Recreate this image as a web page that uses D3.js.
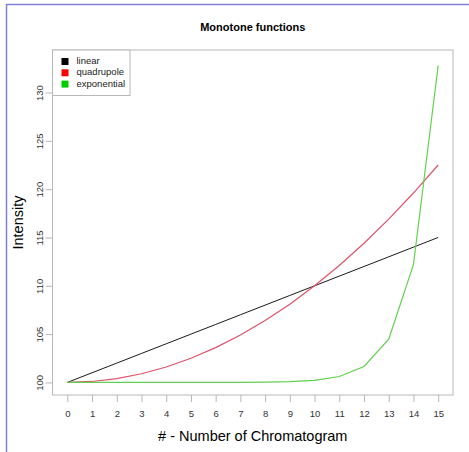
<!DOCTYPE html>
<html>
<head>
<meta charset="utf-8">
<script src="https://cdn.jsdelivr.net/npm/d3@7"></script>
<style>
  html, body { margin: 0; padding: 0; background: #fff; }
  svg { display: block; font-family: "Liberation Sans", Arial, sans-serif; }
</style>
</head>
<body>
<svg id="chart" width="469" height="452"></svg>
<script>
// Chromatogram index on the x axis
const chromatograms = [0, 1, 2, 3, 4, 5, 6, 7, 8, 9, 10, 11, 12, 13, 14, 15];

// Intensity series
const linear = [100, 101, 102, 103, 104, 105, 106, 107, 108, 109, 110, 111, 112, 113, 114, 115];
const quadrupole = [100, 100.1, 100.4, 100.9, 101.6, 102.5, 103.6, 104.9, 106.4, 108.1, 110, 112.1, 114.4, 116.9, 119.6, 122.5];
const exponential = [100, 100, 100, 100, 100, 100.01, 100.01, 100.01, 100.03, 100.08, 100.22, 100.61, 101.65, 104.48, 112.18, 132.8];

const xTicks = [0, 1, 2, 3, 4, 5, 6, 7, 8, 9, 10, 11, 12, 13, 14, 15];
const yTicks = [100, 105, 110, 115, 120, 125, 130];

const seriesNames = ["linear", "quadrupole", "exponential"];
const lineColors = ["#000000", "#DF536B", "#61D04F"];
const legendColors = ["#000000", "#FF0000", "#00CD00"];

const svg = d3.select("#chart");

// page border
svg.append("path")
  .attr("d", "M6.5,452 L6.5,4.5 L469,4.5")
  .attr("fill", "none")
  .attr("stroke", "#8080e0")
  .attr("stroke-width", 1.5);

const frame = { left: 52.5, right: 453, top: 50, bottom: 395 };

const x = d3.scaleLinear().domain([-0.6, 15.6]).range([frame.left, frame.right]);
const y = d3.scaleLinear().domain([98.7, 134.4]).range([frame.bottom, frame.top]);

// plot frame
svg.append("rect")
  .attr("x", frame.left).attr("y", frame.top)
  .attr("width", frame.right - frame.left)
  .attr("height", frame.bottom - frame.top)
  .attr("fill", "none")
  .attr("stroke", "#b8b8b8")
  .attr("stroke-width", 1);

// x axis
const xAxis = svg.append("g")
  .attr("transform", `translate(0,${frame.bottom})`)
  .call(d3.axisBottom(x).tickValues(xTicks).tickSize(7).tickPadding(8).tickFormat(d3.format("d")));
xAxis.select(".domain").remove();
xAxis.selectAll(".tick line").attr("stroke", "#b8b8b8");
xAxis.selectAll(".tick text")
  .attr("fill", "#333")
  .attr("font-size", 9.5)
  .attr("font-family", "Liberation Sans, Arial, sans-serif");

// y axis with rotated labels
const yAxis = svg.append("g")
  .attr("transform", `translate(${frame.left},0)`)
  .call(d3.axisLeft(y).tickValues(yTicks).tickSize(7).tickFormat(d3.format("d")));
yAxis.select(".domain").remove();
yAxis.selectAll(".tick line").attr("stroke", "#b8b8b8");
yAxis.selectAll(".tick text")
  .attr("fill", "#333")
  .attr("font-size", 9.5)
  .attr("font-family", "Liberation Sans, Arial, sans-serif")
  .attr("text-anchor", "middle")
  .attr("dy", null)
  .attr("x", null)
  .attr("transform", "translate(-12,0) rotate(-90)")
  .attr("dominant-baseline", "middle");

// series lines
const line = d3.line()
  .x((d, i) => x(chromatograms[i]))
  .y(d => y(d));

[linear, quadrupole, exponential].forEach((vals, k) => {
  svg.append("path")
    .datum(vals)
    .attr("d", line)
    .attr("fill", "none")
    .attr("stroke", lineColors[k])
    .attr("stroke-width", k === 0 ? 0.9 : 1.2);
});

// title
svg.append("text")
  .attr("x", (frame.left + frame.right) / 2)
  .attr("y", 31)
  .attr("text-anchor", "middle")
  .attr("font-weight", "bold")
  .attr("font-size", 11)
  .text("Monotone functions");

// axis titles
svg.append("text")
  .attr("x", (frame.left + frame.right) / 2)
  .attr("y", 441)
  .attr("text-anchor", "middle")
  .attr("font-size", 14.5)
  .text("# - Number of Chromatogram");

svg.append("text")
  .attr("transform", `translate(23,${(frame.top + frame.bottom) / 2}) rotate(-90)`)
  .attr("text-anchor", "middle")
  .attr("font-size", 14.5)
  .text("Intensity");

// legend
const legend = svg.append("g");
legend.append("rect")
  .attr("x", frame.left).attr("y", frame.top)
  .attr("width", 77.5).attr("height", 45.5)
  .attr("fill", "#fff")
  .attr("stroke", "#b8b8b8");

seriesNames.forEach((name, i) => {
  const cy = frame.top + 11.5 + i * 11.3;
  legend.append("rect")
    .attr("x", 61.5).attr("y", cy - 3.5)
    .attr("width", 7).attr("height", 7)
    .attr("fill", legendColors[i]);
  legend.append("text")
    .attr("x", 76.5).attr("y", cy)
    .attr("dominant-baseline", "middle")
    .attr("font-size", 9.5)
    .attr("fill", "#222")
    .text(name);
});
</script>
</body>
</html>
